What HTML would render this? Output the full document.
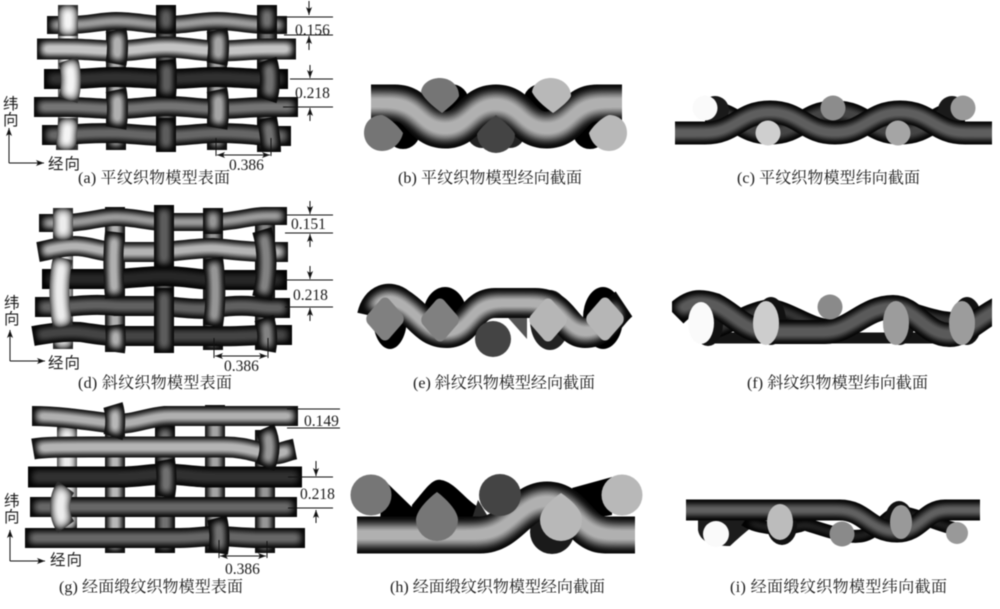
<!DOCTYPE html>
<html lang="zh"><head><meta charset="utf-8"><title>织物模型</title>
<style>
html,body{margin:0;padding:0;background:#fff}
svg{display:block}
.a{fill:none;filter:url(#f5)}
.s{fill:none;filter:url(#fs)}
.b{fill:none;filter:url(#f9)}
.c{fill:none;filter:url(#f6)}
.d{fill:none;filter:url(#f7)}
text{font-family:"Liberation Serif","Noto Serif CJK SC",serif;fill:#1a1a1a}
.n{font-size:15.5px}
.l{font-size:16px}
.ax{font-size:15.5px;font-family:"Liberation Sans","Noto Sans CJK SC",sans-serif}
.dim{stroke:#111;stroke-width:1;fill:none}
.ar{stroke:#111;stroke-width:1;fill:none;marker-end:url(#m)}
.ar2{stroke:#111;stroke-width:1;fill:none;marker-end:url(#m);marker-start:url(#ms)}
</style></head><body>
<svg width="1000" height="609" viewBox="0 0 1000 609" xmlns="http://www.w3.org/2000/svg">
<defs>
<filter id="bl" filterUnits="userSpaceOnUse" x="0" y="0" width="1000" height="609" color-interpolation-filters="sRGB"><feGaussianBlur stdDeviation="0.4"/></filter>
<filter id="f5" filterUnits="userSpaceOnUse" x="0" y="0" width="1000" height="609" color-interpolation-filters="sRGB"><feGaussianBlur in="SourceAlpha" stdDeviation="5"/><feColorMatrix values="0 0 0 2.05 -.95 0 0 0 2.05 -.95 0 0 0 2.05 -.95 0 0 0 0 1"/><feComponentTransfer result="g"><feFuncR type="gamma" amplitude=".9" exponent="1.8" offset=".1"/><feFuncG type="gamma" amplitude=".9" exponent="1.8" offset=".1"/><feFuncB type="gamma" amplitude=".9" exponent="1.8" offset=".1"/></feComponentTransfer><feComposite in="SourceGraphic" in2="g" operator="arithmetic" k1="1" k2="0" k3="0" k4="0"/></filter>
<filter id="fs" filterUnits="userSpaceOnUse" x="0" y="0" width="1000" height="609" color-interpolation-filters="sRGB"><feGaussianBlur in="SourceAlpha" stdDeviation="5"/><feColorMatrix values="0 0 0 2.05 -.95 0 0 0 2.05 -.95 0 0 0 2.05 -.95 0 0 0 0 1"/><feComponentTransfer result="g"><feFuncR type="gamma" amplitude=".8" exponent=".8" offset=".2"/><feFuncG type="gamma" amplitude=".8" exponent=".8" offset=".2"/><feFuncB type="gamma" amplitude=".8" exponent=".8" offset=".2"/></feComponentTransfer><feComposite in="SourceGraphic" in2="g" operator="arithmetic" k1="1" k2="0" k3="0" k4="0"/></filter>
<filter id="f6" filterUnits="userSpaceOnUse" x="0" y="0" width="1000" height="609" color-interpolation-filters="sRGB"><feGaussianBlur in="SourceAlpha" stdDeviation="5.5"/><feColorMatrix values="0 0 0 2.05 -.95 0 0 0 2.05 -.95 0 0 0 2.05 -.95 0 0 0 0 1"/><feComponentTransfer result="g"><feFuncR type="gamma" amplitude=".95" exponent="2" offset=".05"/><feFuncG type="gamma" amplitude=".95" exponent="2" offset=".05"/><feFuncB type="gamma" amplitude=".95" exponent="2" offset=".05"/></feComponentTransfer><feComposite in="SourceGraphic" in2="g" operator="arithmetic" k1="1" k2="0" k3="0" k4="0"/></filter>
<filter id="f7" filterUnits="userSpaceOnUse" x="0" y="0" width="1000" height="609" color-interpolation-filters="sRGB"><feGaussianBlur in="SourceAlpha" stdDeviation="7.5"/><feColorMatrix values="0 0 0 2.05 -.95 0 0 0 2.05 -.95 0 0 0 2.05 -.95 0 0 0 0 1"/><feComponentTransfer result="g"><feFuncR type="gamma" amplitude=".95" exponent="2.2" offset=".05"/><feFuncG type="gamma" amplitude=".95" exponent="2.2" offset=".05"/><feFuncB type="gamma" amplitude=".95" exponent="2.2" offset=".05"/></feComponentTransfer><feComposite in="SourceGraphic" in2="g" operator="arithmetic" k1="1" k2="0" k3="0" k4="0"/></filter>
<filter id="f9" filterUnits="userSpaceOnUse" x="0" y="0" width="1000" height="609" color-interpolation-filters="sRGB"><feGaussianBlur in="SourceAlpha" stdDeviation="9"/><feColorMatrix values="0 0 0 2.05 -.95 0 0 0 2.05 -.95 0 0 0 2.05 -.95 0 0 0 0 1"/><feComponentTransfer result="g"><feFuncR type="gamma" amplitude=".95" exponent="2.2" offset=".05"/><feFuncG type="gamma" amplitude=".95" exponent="2.2" offset=".05"/><feFuncB type="gamma" amplitude=".95" exponent="2.2" offset=".05"/></feComponentTransfer><feComposite in="SourceGraphic" in2="g" operator="arithmetic" k1="1" k2="0" k3="0" k4="0"/></filter>
<clipPath id="cb"><rect x="371" y="60" width="251" height="110"/></clipPath>
<clipPath id="cc"><rect x="675" y="80" width="317" height="80"/></clipPath>
<clipPath id="cf"><rect x="672" y="285" width="320" height="70"/></clipPath>
<clipPath id="ch"><rect x="357" y="470" width="278" height="100"/></clipPath>
<clipPath id="ci"><rect x="686" y="490" width="294" height="70"/></clipPath>
<marker id="m" markerUnits="userSpaceOnUse" markerWidth="9" markerHeight="7" refX="8" refY="3.5" orient="auto"><path d="M0 .5L8 3.5L0 6.500L2 3.500Z" fill="#111"/></marker>
<marker id="ms" markerUnits="userSpaceOnUse" markerWidth="9" markerHeight="7" refX="0" refY="3.5" orient="auto"><path d="M8 .5L0 3.5L8 6.500L6 3.500Z" fill="#111"/></marker>
</defs>
<rect width="1000" height="609" fill="#fff"/>
<g filter="url(#bl)">

<!-- (a) -->
<g stroke-width="20">
<path class="s" stroke="#f4f4f4" d="M68 5V150"/><path class="a" stroke="#b0b0b0" d="M116 25V150"/><path class="a" stroke="#5c5c5c" d="M166 5V152"/><path class="a" stroke="#a4a4a4" d="M217 25V150"/><path class="a" stroke="#707070" d="M267 5V152"/>
<path class="a" stroke="#a0a0a0" stroke-width="18" d="M47 25H68C90 25 100 21 116 21C135 21 150 25 166 25C185 25 200 21 217 21C235 21 250 25 267 25H287"/>
<path class="a" stroke="#c4c4c4" stroke-width="21" d="M37 49H68C85 49 100 51 116 51C135 51 150 47 166 47C185 47 200 51 217 51C235 51 250 49 267 49H296"/>
<path class="a" stroke="#303030" d="M44 79H68C85 79 100 77 116 77C135 77 150 79 166 79C185 79 200 77 217 77C235 77 250 79 267 79H288"/>
<path class="a" stroke="#747474" d="M34 107H68C85 107 100 109 116 109C135 109 150 106 166 106C185 106 200 109 217 109C235 109 250 107 267 107H298"/>
<path class="a" stroke="#666" d="M42 135H68C85 133 100 133 116 133C135 134 150 136 166 136C185 136 200 133 217 133C235 133 250 134 267 136H291"/>
<path class="s" stroke="#f4f4f4" d="M68 5V36M68 60C72 72 72 88 68 100M68 118C68 130 66 140 66 150"/>
<path class="a" stroke="#b0b0b0" stroke-width="21" d="M116 30C118 40 118 52 116 64M116 90C118 100 118 116 116 128"/>
<path class="a" stroke="#5c5c5c" d="M166 5V33M166 60C167 72 167 86 166 98M166 118V152"/>
<path class="a" stroke="#a4a4a4" stroke-width="21" d="M217 30C219 40 219 52 217 64M217 90C219 100 219 116 217 128"/>
<path class="a" stroke="#707070" d="M267 5V33M267 60C271 72 271 88 267 100M267 118C269 130 271 140 271 152"/>
</g>

<!-- (b) -->
<g>
<circle cx="451" cy="102" r="18" fill="#000"/><circle cx="541" cy="102" r="18" fill="#000"/>
<circle cx="403" cy="132" r="17" fill="#000"/><circle cx="590" cy="132" r="17" fill="#000"/><circle cx="482" cy="133" r="15" fill="#222"/><circle cx="510" cy="133" r="15" fill="#222"/>
<path class="b" stroke="#b0b0b0" stroke-width="37" clip-path="url(#cb)" d="M330 103H395C420 103 420 130 445 130C470 130 470 103 496 103C521 103 521 130 547 130C572 130 572 103 597 103H660"/>
<path fill="#757575" d="M421 92C422 83 431 78 440 78C450 78 459 85 459 96C457 101 447 109 442 113C435 108 425 100 421 92Z"/>
<path fill="#b8b8b8" d="M532 92C533 83 542 78 551 78C561 78 571 85 571 96C569 101 559 109 553 113C546 108 536 100 532 92Z"/>
<path fill="#444" d="M477 134C480 128 490 120 496 115C502 120 512 128 515 134A19 19 0 0 1 477 134Z"/>
<path fill="#757575" d="M364 133C364 122 372 115 382 115C389 117 399 127 403 133C401 143 392 151 382 151C372 151 364 143 364 133Z"/>
<path fill="#b8b8b8" d="M627 133C627 122 619 115 609 115C602 117 592 127 589 133C591 143 599 151 609 151C619 151 627 143 627 133Z"/>
</g>

<!-- (c) -->
<g>
<path class="c" stroke="#444" stroke-width="23" d="M705 112C735 112 740 133 770 133C800 133 805 112 835 112C865 112 870 133 900 133C930 133 935 112 965 112"/>
<circle cx="715" cy="110" r="14" fill="#1a1a1a"/><circle cx="952" cy="110" r="14" fill="#1a1a1a"/>
<path class="c" stroke="#5e5e5e" stroke-width="23" clip-path="url(#cc)" d="M640 133H705C735 133 740 112 770 112C800 112 805 133 835 133C865 133 870 112 900 112C930 112 935 133 965 133H1030"/>
<circle cx="705" cy="108" r="12.500" fill="#fafafa"/><circle cx="833" cy="108" r="12.500" fill="#8c8c8c"/><circle cx="768" cy="133" r="12.500" fill="#cfcfcf"/><circle cx="898" cy="133" r="12.500" fill="#a5a5a5"/><circle cx="963" cy="108" r="12.500" fill="#999"/>
</g>

<!-- (d) -->
<g stroke-width="20">
<path class="s" stroke="#ececec" d="M63 208V349"/><path class="a" stroke="#b0b0b0" d="M115 207V352"/><path class="a" stroke="#5c5c5c" d="M164 205V353"/><path class="a" stroke="#969696" d="M213 208V350"/><path class="a" stroke="#828282" d="M265 208V350"/>
<path class="a" stroke="#a0a0a0" stroke-width="18" d="M39 223H63C85 223 100 217 115 217C135 217 150 222 164 222H213C235 222 250 216 265 216H287"/>
<path class="a" stroke="#b4b4b4" d="M38 252C50 250 60 246 75 246C90 246 100 252 115 252H164C185 250 200 248 213 248C235 250 250 252 265 252H288"/>
<path class="a" stroke="#262626" d="M42 279H115C135 278 150 276 164 276C185 276 200 280 213 280H287"/>
<path class="a" stroke="#606060" d="M35 307H63C85 305 100 304 115 306H164C185 308 200 310 213 308C235 305 250 305 265 308H290"/>
<path class="a" stroke="#444" d="M33 336C45 334 60 331 80 332C95 334 105 336 115 336H213C235 337 250 335 265 335H292"/>
<path class="s" stroke="#ececec" d="M63 208V240M63 258C58 280 58 302 63 327"/>
<path class="a" stroke="#b0b0b0" d="M115 232C113 250 113 275 115 298M115 325C116 335 116 345 115 352"/>
<path class="a" stroke="#5c5c5c" d="M164 205V268M164 288V353"/>
<path class="a" stroke="#969696" d="M213 208V234M213 258C216 280 216 305 213 326"/>
<path class="a" stroke="#828282" d="M262 230C268 250 268 275 262 298M264 318C268 330 268 340 266 351"/>
</g>

<!-- (e) -->
<g>
<ellipse cx="390" cy="318" rx="17" ry="31" fill="#000"/><ellipse cx="445" cy="316" rx="22" ry="29" fill="#000"/><ellipse cx="550" cy="320" rx="20" ry="30" fill="#222"/><ellipse cx="603" cy="318" rx="20" ry="31" fill="#000"/>
<path fill="#555" d="M503 312H527V339Z"/>
<path class="d" stroke="#b0b0b0" stroke-width="30" d="M372 316C376 298 390 295 400 303C420 315 425 333 447 333C470 333 470 303 495 303H535C565 303 565 333 585 333C605 333 612 312 624 304"/>
<rect x="-15" y="-15" width="30" height="30" rx="6" fill="#808080" transform="translate(385 319) scale(1 1.150) rotate(45)"/>
<rect x="-15" y="-15" width="30" height="30" rx="6" fill="#808080" transform="translate(440 320) scale(1 1.150) rotate(45)"/>
<rect x="-15" y="-15" width="30" height="30" rx="6" fill="#b6b6b6" transform="translate(548 320) scale(1 1.150) rotate(45)"/>
<rect x="-15" y="-15" width="30" height="30" rx="6" fill="#b6b6b6" transform="translate(605 319) scale(1 1.150) rotate(45)"/>
<circle cx="493" cy="339" r="18" fill="#444"/>
</g>

<!-- (f) -->
<g>
<path fill="none" stroke="#141414" stroke-width="11" d="M710 338H950"/>
<path class="c" stroke="#3c3c3c" stroke-width="18" d="M700 330C720 335 740 312 770 308C790 310 810 328 830 328C850 330 870 310 896 308C920 312 940 325 970 320"/>
<ellipse cx="708" cy="324" rx="15" ry="22" fill="#111"/><ellipse cx="771" cy="321" rx="15" ry="24" fill="#111"/><ellipse cx="900" cy="321" rx="15" ry="24" fill="#111"/><ellipse cx="967" cy="321" rx="15" ry="24" fill="#111"/>
<path class="c" stroke="#5a5a5a" stroke-width="24" clip-path="url(#cf)" d="M675 315C690 300 700 300 715 305C735 315 745 332 770 332H825C850 332 865 307 893 307C915 307 925 335 950 335C965 335 975 320 1005 305"/>
<ellipse cx="701" cy="323" rx="13" ry="21" fill="#fafafa"/><ellipse cx="766" cy="323" rx="13" ry="22" fill="#cdcdcd"/><circle cx="830" cy="307" r="12.500" fill="#8a8a8a"/><ellipse cx="896" cy="323" rx="13" ry="22" fill="#9c9c9c"/><ellipse cx="962" cy="323" rx="13" ry="22" fill="#9c9c9c"/>
</g>

<!-- (g) -->
<g stroke-width="20">
<path class="s" stroke="#ececec" d="M67 425V530"/><path class="a" stroke="#b8b8b8" d="M115 425V553"/><path class="a" stroke="#707070" d="M165 425V553"/><path class="a" stroke="#a4a4a4" d="M215 405V553"/><path class="a" stroke="#969696" d="M265 430V553"/>
<path class="a" stroke="#b0b0b0" d="M32 416C60 416 85 420 115 424C135 424 145 418 165 416H298"/>
<path class="a" stroke="#b4b4b4" stroke-width="21" d="M33 449C45 447 60 447 90 447H225C245 447 255 452 268 454C280 455 285 451 295 449"/>
<path class="a" stroke="#303030" stroke-width="21" d="M28 477H120C140 477 150 474 165 474C180 474 195 477 210 477H302"/>
<path class="a" stroke="#666" d="M30 507H90C100 507 110 507 140 507H297"/>
<path class="a" stroke="#666" d="M25 538H180C195 538 205 536 215 536C230 536 240 538 260 538H305"/>
<path class="a" stroke="#b8b8b8" d="M113 405C116 415 116 428 113 437"/>
<path class="a" stroke="#707070" d="M165 460C167 472 167 485 165 497"/>
<path class="a" stroke="#969696" d="M265 428C271 442 271 453 265 467"/>
<path class="s" stroke="#ececec" d="M66 487C58 498 58 516 66 527"/>
<path class="a" stroke="#707070" d="M217 518C220 530 220 542 218 553"/>
</g>

<!-- (h) -->
<g fill="#000">
<path d="M382 478L417 512L415 525L380 525Z"/>
<path d="M412 505C425 490 432 478 441 480C455 482 465 500 480 508L478 525H410Z"/>
<path fill="#2a2a2a" d="M478 500L490 520L470 525Z"/>
<path d="M572 488L612 477L612 515L590 519Z"/>
<circle cx="552" cy="532" r="22" fill="#1a1a1a"/>
<path class="b" stroke="#b0b0b0" stroke-width="37" clip-path="url(#ch)" d="M320 535H480C510 535 520 500 547 500C575 500 580 535 605 535H670"/>
<circle cx="371" cy="495" r="20.500" fill="#767676"/><circle cx="500" cy="495" r="21" fill="#444"/><circle cx="622" cy="495" r="20.500" fill="#b8b8b8"/>
<path fill="#767676" d="M437 492C444 497 458 510 458 520A21 21 0 0 1 416 520C416 510 430 497 437 492Z"/>
<path fill="#b8b8b8" d="M561 493C568 498 582 508 582 520A21 21 0 0 1 540 520C540 508 554 498 561 493Z"/>
</g>

<!-- (i) -->
<g>
<path fill="#1c1c1c" d="M698 516V530C700 542 712 546 730 546C745 532 755 524 768 516Z"/>
<path class="c" stroke="#444" stroke-width="13" d="M745 520C760 530 790 530 805 524C825 530 850 540 865 535C880 530 885 515 900 512C920 515 935 525 960 530"/>
<ellipse cx="782" cy="526" rx="15" ry="19" fill="#111"/><ellipse cx="899" cy="520" rx="14" ry="19" fill="#111"/>
<path class="c" stroke="#606060" stroke-width="21" clip-path="url(#ci)" d="M650 510H840C865 510 870 532 897 532C920 532 925 510 945 510H1020"/>
<circle cx="716" cy="534" r="13" fill="#fafafa"/><ellipse cx="780" cy="522" rx="13" ry="18" fill="#bcbcbc"/><circle cx="842" cy="534" r="12.500" fill="#8a8a8a"/><ellipse cx="901" cy="522" rx="11" ry="17" fill="#999"/><circle cx="957" cy="533" r="11" fill="#999"/>
</g>

<!-- dimensions (a) -->
<path class="dim" d="M278 17H333M284 35H333M290 79H333M283 107H333M216 138V156M271 138V156"/>
<path class="ar" d="M309 1V15"/><path class="ar" d="M309 50V36"/><path class="ar" d="M310 65V78"/><path class="ar" d="M310 121V108"/>
<path class="ar2" d="M217 155H270"/>
<path class="ar" d="M9 163V128"/><path class="ar" d="M9 163H44"/>
<text class="n" x="295" y="35">0.156</text><text class="n" x="295" y="98">0.218</text><text class="n" x="229" y="170">0.386</text>
<text class="ax" x="3" y="109">纬</text><text class="ax" x="3" y="125">向</text><text class="ax" x="48" y="169" textLength="32">经向</text>
<!-- dimensions (d) -->
<path class="dim" d="M285 215H333M285 233H333M285 280H333M285 307H333M214 338V358M268 338V358"/>
<path class="ar" d="M310 201V214"/><path class="ar" d="M310 247V234"/><path class="ar" d="M310 266V279"/><path class="ar" d="M310 321V308"/>
<path class="ar2" d="M215 356H267"/>
<path class="ar" d="M10 361V330"/><path class="ar" d="M10 361H45"/>
<text class="n" x="291" y="229">0.151</text><text class="n" x="293" y="300">0.218</text><text class="n" x="224" y="371">0.386</text>
<text class="ax" x="4" y="308">纬</text><text class="ax" x="4" y="324">向</text><text class="ax" x="48" y="368" textLength="32">经向</text>
<!-- dimensions (g) -->
<path class="dim" d="M287 409H340M287 428H340M288 477H333M288 508H333M219 540V558M267 541V558"/>
<path class="ar" d="M316 461V476"/><path class="ar" d="M316 523V510"/>
<path class="ar2" d="M220 556H266"/>
<path class="ar" d="M10 561V530"/><path class="ar" d="M10 561H45"/>
<text class="n" x="304" y="426">0.149</text><text class="n" x="300" y="499">0.218</text><text class="n" x="225" y="574">0.386</text>
<text class="ax" x="4" y="506">纬</text><text class="ax" x="4" y="522">向</text><text class="ax" x="50" y="565" textLength="32">经向</text>

<!-- captions -->
<text class="l" x="78" y="183" textLength="152">(a) 平纹织物模型表面</text>
<text class="l" x="398" y="183" textLength="184">(b) 平纹织物模型经向截面</text>
<text class="l" x="737" y="183" textLength="183">(c) 平纹织物模型纬向截面</text>
<text class="l" x="78" y="388" textLength="154">(d) 斜纹织物模型表面</text>
<text class="l" x="413" y="388" textLength="182">(e) 斜纹织物模型经向截面</text>
<text class="l" x="747" y="388" textLength="181">(f) 斜纹织物模型纬向截面</text>
<text class="l" x="59" y="592" textLength="184">(g) 经面缎纹织物模型表面</text>
<text class="l" x="390" y="592" textLength="215">(h) 经面缎纹织物模型经向截面</text>
<text class="l" x="730" y="592" textLength="217">(i) 经面缎纹织物模型纬向截面</text>
</g>
</svg>
</body></html>
